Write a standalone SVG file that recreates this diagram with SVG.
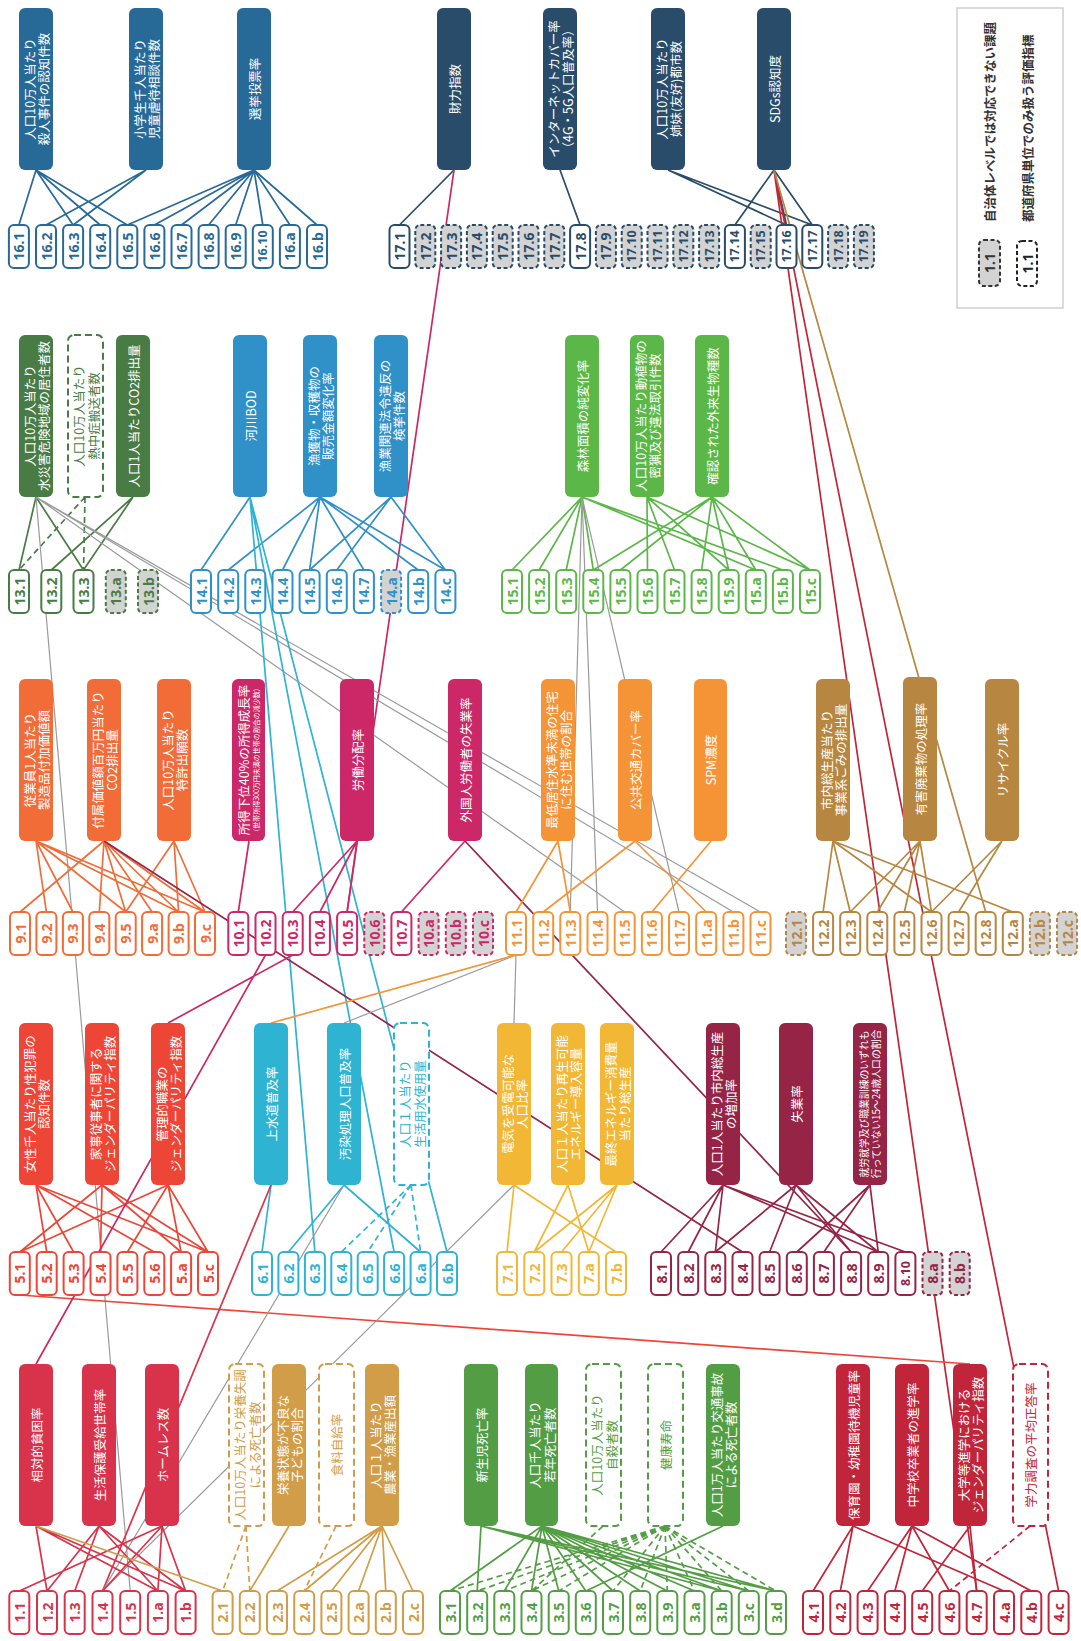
<svg xmlns="http://www.w3.org/2000/svg" width="1081" height="1641" viewBox="0 0 1081 1641">
<style>
.s1{--c:#D8334A}.s2{--c:#D19D48}.s3{--c:#539E45}.s4{--c:#C1253A}.s5{--c:#EE4636}.s6{--c:#2EB3D3}.s7{--c:#F2B735}.s8{--c:#952447}.s9{--c:#F26C38}.s10{--c:#CC2766}.s11{--c:#F59437}.s12{--c:#B78640}.s13{--c:#497C45}.s14{--c:#2F91C8}.s15{--c:#5BB848}.s16{--c:#286A97}.s17{--c:#294C6A}
#connectors path{fill:none;stroke:var(--c);stroke-width:1.7}
#connectors path.g{stroke:#9a9a9a;stroke-width:1.2}
#connectors path.d{stroke-dasharray:6 4}
.t rect{fill:#fff;stroke:var(--c);stroke-width:2}
.t.na rect{fill:#d3d3d3;stroke-dasharray:4 2.5}
.t text{fill:var(--c);font-family:"Noto Sans","DejaVu Sans",sans-serif;font-weight:700;font-size:14px;text-anchor:middle;dominant-baseline:central}
.t text.w{font-size:12.5px}
.i rect{fill:var(--c)}
.i text{fill:#fff;font-family:"Noto Sans CJK JP","Noto Sans",sans-serif;font-size:12.5px;text-anchor:middle;dominant-baseline:central}
.i.d rect{fill:#fff;stroke:var(--c);stroke-width:2;stroke-dasharray:7 4}
.i.d text{fill:var(--c)}
.lg{fill:#333;font-family:"Noto Sans CJK JP","Noto Sans",sans-serif;font-weight:700;font-size:12.5px;dominant-baseline:central}
</style>
<rect width="1081" height="1641" fill="#fff"/>
<g id="connectors">
<path class="s16" d="M36 170L18.9 225M36 170L73.1 225M36 170L100.2 225M36 170L127.3 225M146 170L46 225M146 170L73.1 225M254 170L127.3 225M254 170L154.4 225M254 170L181.5 225M254 170L208.6 225M254 170L235.7 225M254 170L262.8 225M254 170L289.9 225M254 170L317 225"/>
<path class="s17" d="M454 170L399.5 225M560 170L580.1 225M668 170L786.5 225M668 170L812.3 225M774 170L734.9 225M774 170L786.5 225M774 170L812.3 225"/>
<path class="s10" d="M454 170L347.1 912"/>
<path class="s4" d="M774 170L976.7 1591M774 170L1058.6 1591"/>
<path class="s12" d="M774 170L985.7 912"/>
<path class="s13" d="M36 497L19 570M36 497L83.5 570M133 497L51.3 570M133 497L83.5 570"/>
<path class="s13 d" d="M85 497L19 570M85 497L83.5 570"/>
<path class="g" d="M36 497L130.2 1591M36 497L624.7 912M36 497L733.4 912M36 497L760.5 912"/>
<path class="s14" d="M250 497L201 570M320 497L228.2 570M320 497L282.5 570M320 497L309.6 570M320 497L363.9 570M320 497L418.2 570M320 497L445.4 570M391 497L309.6 570M391 497L336.8 570M391 497L445.4 570"/>
<path class="s6" d="M250 497L314.9 1252M250 497L394.1 1252M250 497L447 1252"/>
<path class="s15" d="M582 497L512 570M582 497L539.1 570M582 497L566.2 570M582 497L593.3 570M582 497L755.8 570M582 497L782.9 570M647 497L647.5 570M647 497L674.5 570M647 497L728.7 570M647 497L810 570M712 497L593.3 570M712 497L620.4 570M712 497L701.6 570M712 497L728.7 570M712 497L755.8 570M712 497L810 570"/>
<path class="g" d="M582 497L570.3 912M582 497L597.5 912M582 497L679 912"/>
<path class="s9" d="M36 841L46.4 912M36 841L72.9 912M36 841L125.7 912M36 841L178.6 912M36 841L205 912M104 841L20 912M104 841L99.3 912M104 841L125.7 912M104 841L152.1 912M104 841L178.6 912M104 841L205 912M174 841L125.7 912M174 841L178.6 912M174 841L205 912"/>
<path class="s8" d="M104 841L742.5 1252M465 841L851.1 1252"/>
<path class="s10" d="M249 841L238.3 912M357 841L292.7 912M357 841L319.9 912M357 841L347.1 912M465 841L401.4 912"/>
<path class="s11" d="M558 841L516 912M558 841L570.3 912M635 841L543.2 912M635 841L706.2 912M711 841L651.9 912"/>
<path class="s12" d="M833 841L823.1 912M833 841L850.2 912M833 841L931.5 912M833 841L1012.8 912M920 841L850.2 912M920 841L877.3 912M920 841L904.4 912M920 841L931.5 912M1002 841L931.5 912M1002 841L958.6 912"/>
<path class="s5" d="M36 1185L46.7 1252M36 1185L73.6 1252M36 1185L154.3 1252M36 1185L208 1252M102 1185L19.8 1252M102 1185L100.5 1252M102 1185L181.1 1252M102 1185L208 1252M168 1185L19.8 1252M168 1185L127.4 1252M168 1185L181.1 1252M168 1185L208 1252"/>
<path class="s5" d="M970 1364L19.8 1295"/>
<path class="s10" d="M168 1023L292.7 955M36 1364L265.5 955"/>
<path class="s6" d="M271 1185L262 1252M344 1185L288.4 1252M344 1185L420.6 1252"/>
<path class="s6 d" d="M411 1185L341.3 1252M411 1185L367.7 1252M411 1185L420.6 1252"/>
<path class="s1" d="M271 1185L102.5 1591"/>
<path class="g" d="M344 1185L102.5 1591M514 1185L102.5 1591M344 1023L516 955M514 1023L516 955"/>
<path class="s11" d="M271 1023L516 955"/>
<path class="s7" d="M514 1185L507 1252M514 1185L616 1252M568 1185L534.3 1252M568 1185L588.8 1252M617 1185L534.3 1252M617 1185L561.5 1252M617 1185L588.8 1252"/>
<path class="s8" d="M723 1185L661 1252M723 1185L688.2 1252M723 1185L715.3 1252M723 1185L878.2 1252M723 1185L905.4 1252M796 1185L715.3 1252M796 1185L769.6 1252M796 1185L851.1 1252M796 1185L878.2 1252M870 1185L796.8 1252M870 1185L823.9 1252M870 1185L878.2 1252"/>
<path class="s1" d="M36 1526L47 1591M36 1526L157.9 1591M36 1526L185.6 1591M99 1526L47 1591M99 1526L74.7 1591M99 1526L157.9 1591M99 1526L185.6 1591M162 1526L19.3 1591M162 1526L102.5 1591M162 1526L157.9 1591M162 1526L185.6 1591"/>
<path class="s2" d="M36 1526L222.6 1591M289 1526L249.8 1591M382 1526L277 1591M382 1526L304.2 1591M382 1526L331.4 1591M382 1526L358.6 1591M382 1526L385.8 1591M382 1526L413 1591"/>
<path class="s2 d" d="M246 1526L222.6 1591M246 1526L249.8 1591M336 1526L304.2 1591"/>
<path class="s3" d="M481 1526L477.2 1591M481 1526L721.7 1591M481 1526L748.8 1591M481 1526L776 1591M542 1526L450 1591M542 1526L504.3 1591M542 1526L531.5 1591M542 1526L558.7 1591M542 1526L585.8 1591M542 1526L613 1591M542 1526L640.2 1591M542 1526L667.3 1591M542 1526L694.5 1591M542 1526L721.7 1591M542 1526L748.8 1591M542 1526L776 1591M723 1526L585.8 1591"/>
<path class="s3 d" d="M603 1526L531.5 1591M665 1526L450 1591M665 1526L477.2 1591M665 1526L504.3 1591M665 1526L531.5 1591M665 1526L558.7 1591M665 1526L613 1591M665 1526L640.2 1591M665 1526L667.3 1591M665 1526L694.5 1591M665 1526L721.7 1591M665 1526L748.8 1591M665 1526L776 1591"/>
<path class="s4" d="M853 1526L813 1591M853 1526L840.3 1591M853 1526L1004 1591M912 1526L867.6 1591M912 1526L894.9 1591M912 1526L949.4 1591M912 1526L1031.3 1591M970 1526L922.2 1591M970 1526L976.7 1591"/>
<path class="s4 d" d="M1030 1526L949.4 1591"/>
</g>
<g id="legend">
<rect x="957" y="8" width="106" height="300" fill="#fff" stroke="#cfcfcf" stroke-width="1.5"/>
<g class="t na" style="--c:#333"><rect x="979" y="240" width="21" height="46" rx="5"/><text transform="translate(989.5,263) rotate(-90)">1.1</text></g>
<g class="t" style="--c:#222"><rect x="1017" y="241" width="20" height="45" rx="5" style="stroke-dasharray:4 2.5"/><text transform="translate(1027,263.5) rotate(-90)">1.1</text></g>
<text class="lg" transform="translate(989,222) rotate(-90)">自治体レベルでは対応できない課題</text>
<text class="lg" transform="translate(1027,222) rotate(-90)">都道府県単位でのみ扱う評価指標</text>
</g>
<g id="i16-1" class="i s16"><rect x="19" y="8" width="34" height="162" rx="6"/><text transform="translate(36,89) rotate(-90)"><tspan x="0" y="-7.2">人口10万人当たり</tspan><tspan x="0" y="7.2">殺人事件の認知件数</tspan></text></g>
<g id="i16-2" class="i s16"><rect x="129" y="8" width="34" height="162" rx="6"/><text transform="translate(146,89) rotate(-90)"><tspan x="0" y="-7.2">小学生千人当たり</tspan><tspan x="0" y="7.2">児童虐待相談件数</tspan></text></g>
<g id="i16-3" class="i s16"><rect x="237" y="8" width="34" height="162" rx="6"/><text transform="translate(254,89) rotate(-90)">選挙投票率</text></g>
<g id="i17-1" class="i s17"><rect x="437" y="8" width="34" height="162" rx="6"/><text transform="translate(454,89) rotate(-90)">財力指数</text></g>
<g id="i17-2" class="i s17"><rect x="543" y="8" width="34" height="162" rx="6"/><text transform="translate(560,89) rotate(-90)"><tspan x="0" y="-7.2">インターネットカバー率</tspan><tspan x="0" y="7.2">（4G・5G人口普及率）</tspan></text></g>
<g id="i17-3" class="i s17"><rect x="651" y="8" width="34" height="162" rx="6"/><text transform="translate(668,89) rotate(-90)"><tspan x="0" y="-7.2">人口10万人当たり</tspan><tspan x="0" y="7.2">姉妹(友好)都市数</tspan></text></g>
<g id="i17-4" class="i s17"><rect x="757" y="8" width="34" height="162" rx="6"/><text transform="translate(774,89) rotate(-90)">SDGs認知度</text></g>
<g id="i13-1" class="i s13"><rect x="19" y="335" width="34" height="162" rx="6"/><text transform="translate(36,416) rotate(-90)"><tspan x="0" y="-7.2">人口10万人当たり</tspan><tspan x="0" y="7.2">水災害危険地域の居住者数</tspan></text></g>
<g id="i13-2" class="i d s13"><rect x="68" y="335" width="35" height="162" rx="6"/><text transform="translate(85.5,416) rotate(-90)"><tspan x="0" y="-7.2">人口10万人当たり</tspan><tspan x="0" y="7.2">熱中症搬送者数</tspan></text></g>
<g id="i13-3" class="i s13"><rect x="116" y="335" width="34" height="162" rx="6"/><text transform="translate(133,416) rotate(-90)">人口1人当たりCO2排出量</text></g>
<g id="i14-1" class="i s14"><rect x="233" y="335" width="34" height="162" rx="6"/><text transform="translate(250,416) rotate(-90)">河川BOD</text></g>
<g id="i14-2" class="i s14"><rect x="303" y="335" width="34" height="162" rx="6"/><text transform="translate(320,416) rotate(-90)"><tspan x="0" y="-7.2">漁獲物・収穫物の</tspan><tspan x="0" y="7.2">販売金額変化率</tspan></text></g>
<g id="i14-3" class="i s14"><rect x="374" y="335" width="34" height="162" rx="6"/><text transform="translate(391,416) rotate(-90)"><tspan x="0" y="-7.2">漁業関連法令違反の</tspan><tspan x="0" y="7.2">検挙件数</tspan></text></g>
<g id="i15-1" class="i s15"><rect x="565" y="335" width="34" height="162" rx="6"/><text transform="translate(582,416) rotate(-90)">森林面積の純変化率</text></g>
<g id="i15-2" class="i s15"><rect x="630" y="335" width="34" height="162" rx="6"/><text transform="translate(647,416) rotate(-90)"><tspan x="0" y="-7.2">人口10万人当たり動植物の</tspan><tspan x="0" y="7.2">密猟及び違法取引件数</tspan></text></g>
<g id="i15-3" class="i s15"><rect x="695" y="335" width="34" height="162" rx="6"/><text transform="translate(712,416) rotate(-90)">確認された外来生物種数</text></g>
<g id="i9-1" class="i s9"><rect x="19" y="679" width="34" height="162" rx="6"/><text transform="translate(36,760) rotate(-90)"><tspan x="0" y="-7.2">従業員1人当たり</tspan><tspan x="0" y="7.2">製造品付加価値額</tspan></text></g>
<g id="i9-2" class="i s9"><rect x="87" y="679" width="34" height="162" rx="6"/><text transform="translate(104,760) rotate(-90)"><tspan x="0" y="-7.2">付属価値額百万円当たり</tspan><tspan x="0" y="7.2">CO2排出量</tspan></text></g>
<g id="i9-3" class="i s9"><rect x="157" y="679" width="34" height="162" rx="6"/><text transform="translate(174,760) rotate(-90)"><tspan x="0" y="-7.2">人口10万人当たり</tspan><tspan x="0" y="7.2">特許出願数</tspan></text></g>
<g id="i10-1" class="i s10"><rect x="232" y="679" width="33" height="162" rx="6"/><text transform="translate(248.5,760) rotate(-90)"><tspan x="0" y="-5.5">所得下位40%の所得成長率</tspan><tspan x="0" y="7" style="font-size:7px">(世帯所得300万円未満の世帯の割合の減少数)</tspan></text></g>
<g id="i10-2" class="i s10"><rect x="340" y="679" width="34" height="162" rx="6"/><text transform="translate(357,760) rotate(-90)">労働分配率</text></g>
<g id="i10-3" class="i s10"><rect x="448" y="679" width="34" height="162" rx="6"/><text transform="translate(465,760) rotate(-90)">外国人労働者の失業率</text></g>
<g id="i11-1" class="i s11"><rect x="541" y="679" width="34" height="162" rx="6"/><text transform="translate(558,760) rotate(-90)"><tspan x="0" y="-7.2">最低居住水準未満の住宅</tspan><tspan x="0" y="7.2">に住む世帯の割合</tspan></text></g>
<g id="i11-2" class="i s11"><rect x="618" y="679" width="34" height="162" rx="6"/><text transform="translate(635,760) rotate(-90)">公共交通カバー率</text></g>
<g id="i11-3" class="i s11"><rect x="694" y="679" width="33" height="162" rx="6"/><text transform="translate(710.5,760) rotate(-90)">SPM濃度</text></g>
<g id="i12-1" class="i s12"><rect x="816" y="679" width="34" height="162" rx="6"/><text transform="translate(833,760) rotate(-90)"><tspan x="0" y="-7.2">市内総生産当たり</tspan><tspan x="0" y="7.2">事業系ごみの排出量</tspan></text></g>
<g id="i12-2" class="i s12"><rect x="903" y="677" width="34" height="164" rx="6"/><text transform="translate(920,759) rotate(-90)">有害廃棄物の処理率</text></g>
<g id="i12-3" class="i s12"><rect x="985" y="679" width="34" height="162" rx="6"/><text transform="translate(1002,760) rotate(-90)">リサイクル率</text></g>
<g id="i5-1" class="i s5"><rect x="19" y="1023" width="34" height="162" rx="6"/><text transform="translate(36,1104) rotate(-90)"><tspan x="0" y="-7.2">女性千人当たり性犯罪の</tspan><tspan x="0" y="7.2">認知件数</tspan></text></g>
<g id="i5-2" class="i s5"><rect x="85" y="1023" width="34" height="162" rx="6"/><text transform="translate(102,1104) rotate(-90)"><tspan x="0" y="-7.2">家事従事者に関する</tspan><tspan x="0" y="7.2">ジェンダーパリティ指数</tspan></text></g>
<g id="i5-3" class="i s5"><rect x="151" y="1023" width="34" height="162" rx="6"/><text transform="translate(168,1104) rotate(-90)"><tspan x="0" y="-7.2">管理的職業の</tspan><tspan x="0" y="7.2">ジェンダーパリティ指数</tspan></text></g>
<g id="i6-1" class="i s6"><rect x="254" y="1023" width="34" height="162" rx="6"/><text transform="translate(271,1104) rotate(-90)">上水道普及率</text></g>
<g id="i6-2" class="i s6"><rect x="327" y="1023" width="34" height="162" rx="6"/><text transform="translate(344,1104) rotate(-90)">汚染処理人口普及率</text></g>
<g id="i6-3" class="i d s6"><rect x="394" y="1023" width="35" height="162" rx="6"/><text transform="translate(411.5,1104) rotate(-90)"><tspan x="0" y="-7.2">人口１人当たり</tspan><tspan x="0" y="7.2">生活用水使用量</tspan></text></g>
<g id="i7-1" class="i s7"><rect x="497" y="1023" width="34" height="162" rx="6"/><text transform="translate(514,1104) rotate(-90)"><tspan x="0" y="-7.2">電気を受電可能な</tspan><tspan x="0" y="7.2">人口比率</tspan></text></g>
<g id="i7-2" class="i s7"><rect x="551" y="1023" width="34" height="162" rx="6"/><text transform="translate(568,1104) rotate(-90)"><tspan x="0" y="-7.2">人口１人当たり再生可能</tspan><tspan x="0" y="7.2">エネルギー導入容量</tspan></text></g>
<g id="i7-3" class="i s7"><rect x="600" y="1023" width="34" height="162" rx="6"/><text transform="translate(617,1104) rotate(-90)"><tspan x="0" y="-7.2">最終エネルギー消費量</tspan><tspan x="0" y="7.2">当たり総生産</tspan></text></g>
<g id="i8-1" class="i s8"><rect x="706" y="1023" width="34" height="162" rx="6"/><text transform="translate(723,1104) rotate(-90)"><tspan x="0" y="-7.2">人口1人当たり市内総生産</tspan><tspan x="0" y="7.2">の増加率</tspan></text></g>
<g id="i8-2" class="i s8"><rect x="779" y="1023" width="34" height="162" rx="6"/><text transform="translate(796,1104) rotate(-90)">失業率</text></g>
<g id="i8-3" class="i s8"><rect x="853" y="1023" width="34" height="162" rx="6"/><text transform="translate(870,1104) rotate(-90)" style="font-size:9.8px"><tspan x="0" y="-6.3">就労就学及び職業訓練のいずれも</tspan><tspan x="0" y="6.3">行っていない15～24歳人口の割合</tspan></text></g>
<g id="i1-1" class="i s1"><rect x="19" y="1364" width="34" height="162" rx="6"/><text transform="translate(36,1445) rotate(-90)">相対的貧困率</text></g>
<g id="i1-2" class="i s1"><rect x="82" y="1364" width="34" height="162" rx="6"/><text transform="translate(99,1445) rotate(-90)">生活保護受給世帯率</text></g>
<g id="i1-3" class="i s1"><rect x="145" y="1364" width="34" height="162" rx="6"/><text transform="translate(162,1445) rotate(-90)">ホームレス数</text></g>
<g id="i2-1" class="i d s2"><rect x="229" y="1364" width="35" height="162" rx="6"/><text transform="translate(246.5,1445) rotate(-90)"><tspan x="0" y="-7.2">人口10万人当たり栄養失調</tspan><tspan x="0" y="7.2">による死亡者数</tspan></text></g>
<g id="i2-2" class="i s2"><rect x="272" y="1364" width="34" height="162" rx="6"/><text transform="translate(289,1445) rotate(-90)"><tspan x="0" y="-7.2">栄養状態が不良な</tspan><tspan x="0" y="7.2">子どもの割合</tspan></text></g>
<g id="i2-3" class="i d s2"><rect x="319" y="1364" width="35" height="162" rx="6"/><text transform="translate(336.5,1445) rotate(-90)">食料自給率</text></g>
<g id="i2-4" class="i s2"><rect x="365" y="1364" width="34" height="162" rx="6"/><text transform="translate(382,1445) rotate(-90)"><tspan x="0" y="-7.2">人口１人当たり</tspan><tspan x="0" y="7.2">農業・漁業産出額</tspan></text></g>
<g id="i3-1" class="i s3"><rect x="464" y="1364" width="34" height="162" rx="6"/><text transform="translate(481,1445) rotate(-90)">新生児死亡率</text></g>
<g id="i3-2" class="i s3"><rect x="525" y="1364" width="33" height="162" rx="6"/><text transform="translate(541.5,1445) rotate(-90)"><tspan x="0" y="-7.2">人口千人当たり</tspan><tspan x="0" y="7.2">若年死亡者数</tspan></text></g>
<g id="i3-3" class="i d s3"><rect x="586" y="1364" width="35" height="162" rx="6"/><text transform="translate(603.5,1445) rotate(-90)"><tspan x="0" y="-7.2">人口10万人当たり</tspan><tspan x="0" y="7.2">自殺者数</tspan></text></g>
<g id="i3-4" class="i d s3"><rect x="648" y="1364" width="35" height="162" rx="6"/><text transform="translate(665.5,1445) rotate(-90)">健康寿命</text></g>
<g id="i3-5" class="i s3"><rect x="706" y="1364" width="34" height="162" rx="6"/><text transform="translate(723,1445) rotate(-90)"><tspan x="0" y="-7.2">人口1万人当たり交通事故</tspan><tspan x="0" y="7.2">による死亡者数</tspan></text></g>
<g id="i4-1" class="i s4"><rect x="836" y="1364" width="34" height="162" rx="6"/><text transform="translate(853,1445) rotate(-90)">保育園・幼稚園待機児童率</text></g>
<g id="i4-2" class="i s4"><rect x="895" y="1364" width="34" height="162" rx="6"/><text transform="translate(912,1445) rotate(-90)">中学校卒業者の進学率</text></g>
<g id="i4-3" class="i s4"><rect x="953" y="1364" width="34" height="162" rx="6"/><text transform="translate(970,1445) rotate(-90)"><tspan x="0" y="-7.2">大学等進学における</tspan><tspan x="0" y="7.2">ジェンダーパリティ指数</tspan></text></g>
<g id="i4-4" class="i d s4"><rect x="1013" y="1364" width="35" height="162" rx="6"/><text transform="translate(1030.5,1445) rotate(-90)">学力調査の平均正答率</text></g>
<g id="t16-1" class="t s16"><rect x="8.9" y="225" width="20" height="43" rx="5"/><text transform="translate(18.9,246.5) rotate(-90)">16.1</text></g>
<g id="t16-2" class="t s16"><rect x="36" y="225" width="20" height="43" rx="5"/><text transform="translate(46,246.5) rotate(-90)">16.2</text></g>
<g id="t16-3" class="t s16"><rect x="63.1" y="225" width="20" height="43" rx="5"/><text transform="translate(73.1,246.5) rotate(-90)">16.3</text></g>
<g id="t16-4" class="t s16"><rect x="90.2" y="225" width="20" height="43" rx="5"/><text transform="translate(100.2,246.5) rotate(-90)">16.4</text></g>
<g id="t16-5" class="t s16"><rect x="117.3" y="225" width="20" height="43" rx="5"/><text transform="translate(127.3,246.5) rotate(-90)">16.5</text></g>
<g id="t16-6" class="t s16"><rect x="144.4" y="225" width="20" height="43" rx="5"/><text transform="translate(154.4,246.5) rotate(-90)">16.6</text></g>
<g id="t16-7" class="t s16"><rect x="171.5" y="225" width="20" height="43" rx="5"/><text transform="translate(181.5,246.5) rotate(-90)">16.7</text></g>
<g id="t16-8" class="t s16"><rect x="198.6" y="225" width="20" height="43" rx="5"/><text transform="translate(208.6,246.5) rotate(-90)">16.8</text></g>
<g id="t16-9" class="t s16"><rect x="225.7" y="225" width="20" height="43" rx="5"/><text transform="translate(235.7,246.5) rotate(-90)">16.9</text></g>
<g id="t16-10" class="t s16"><rect x="252.8" y="225" width="20" height="43" rx="5"/><text class="w" transform="translate(262.8,246.5) rotate(-90)">16.10</text></g>
<g id="t16-a" class="t s16"><rect x="279.9" y="225" width="20" height="43" rx="5"/><text transform="translate(289.9,246.5) rotate(-90)">16.a</text></g>
<g id="t16-b" class="t s16"><rect x="307" y="225" width="20" height="43" rx="5"/><text transform="translate(317,246.5) rotate(-90)">16.b</text></g>
<g id="t17-1" class="t s17"><rect x="389.5" y="225" width="20" height="43" rx="5"/><text transform="translate(399.5,246.5) rotate(-90)">17.1</text></g>
<g id="t17-2" class="t na s17"><rect x="415.3" y="225" width="20" height="43" rx="5"/><text transform="translate(425.3,246.5) rotate(-90)">17.2</text></g>
<g id="t17-3" class="t na s17"><rect x="441.1" y="225" width="20" height="43" rx="5"/><text transform="translate(451.1,246.5) rotate(-90)">17.3</text></g>
<g id="t17-4" class="t na s17"><rect x="466.9" y="225" width="20" height="43" rx="5"/><text transform="translate(476.9,246.5) rotate(-90)">17.4</text></g>
<g id="t17-5" class="t na s17"><rect x="492.7" y="225" width="20" height="43" rx="5"/><text transform="translate(502.7,246.5) rotate(-90)">17.5</text></g>
<g id="t17-6" class="t na s17"><rect x="518.5" y="225" width="20" height="43" rx="5"/><text transform="translate(528.5,246.5) rotate(-90)">17.6</text></g>
<g id="t17-7" class="t na s17"><rect x="544.3" y="225" width="20" height="43" rx="5"/><text transform="translate(554.3,246.5) rotate(-90)">17.7</text></g>
<g id="t17-8" class="t s17"><rect x="570.1" y="225" width="20" height="43" rx="5"/><text transform="translate(580.1,246.5) rotate(-90)">17.8</text></g>
<g id="t17-9" class="t na s17"><rect x="595.9" y="225" width="20" height="43" rx="5"/><text transform="translate(605.9,246.5) rotate(-90)">17.9</text></g>
<g id="t17-10" class="t na s17"><rect x="621.7" y="225" width="20" height="43" rx="5"/><text class="w" transform="translate(631.7,246.5) rotate(-90)">17.10</text></g>
<g id="t17-11" class="t na s17"><rect x="647.5" y="225" width="20" height="43" rx="5"/><text class="w" transform="translate(657.5,246.5) rotate(-90)">17.11</text></g>
<g id="t17-12" class="t na s17"><rect x="673.3" y="225" width="20" height="43" rx="5"/><text class="w" transform="translate(683.3,246.5) rotate(-90)">17.12</text></g>
<g id="t17-13" class="t na s17"><rect x="699.1" y="225" width="20" height="43" rx="5"/><text class="w" transform="translate(709.1,246.5) rotate(-90)">17.13</text></g>
<g id="t17-14" class="t s17"><rect x="724.9" y="225" width="20" height="43" rx="5"/><text class="w" transform="translate(734.9,246.5) rotate(-90)">17.14</text></g>
<g id="t17-15" class="t na s17"><rect x="750.7" y="225" width="20" height="43" rx="5"/><text class="w" transform="translate(760.7,246.5) rotate(-90)">17.15</text></g>
<g id="t17-16" class="t s17"><rect x="776.5" y="225" width="20" height="43" rx="5"/><text class="w" transform="translate(786.5,246.5) rotate(-90)">17.16</text></g>
<g id="t17-17" class="t s17"><rect x="802.3" y="225" width="20" height="43" rx="5"/><text class="w" transform="translate(812.3,246.5) rotate(-90)">17.17</text></g>
<g id="t17-18" class="t na s17"><rect x="828.1" y="225" width="20" height="43" rx="5"/><text class="w" transform="translate(838.1,246.5) rotate(-90)">17.18</text></g>
<g id="t17-19" class="t na s17"><rect x="853.9" y="225" width="20" height="43" rx="5"/><text class="w" transform="translate(863.9,246.5) rotate(-90)">17.19</text></g>
<g id="t13-1" class="t s13"><rect x="9" y="570" width="20" height="43" rx="5"/><text transform="translate(19,591.5) rotate(-90)">13.1</text></g>
<g id="t13-2" class="t s13"><rect x="41.3" y="570" width="20" height="43" rx="5"/><text transform="translate(51.3,591.5) rotate(-90)">13.2</text></g>
<g id="t13-3" class="t s13"><rect x="73.5" y="570" width="20" height="43" rx="5"/><text transform="translate(83.5,591.5) rotate(-90)">13.3</text></g>
<g id="t13-a" class="t na s13"><rect x="105.8" y="570" width="20" height="43" rx="5"/><text transform="translate(115.8,591.5) rotate(-90)">13.a</text></g>
<g id="t13-b" class="t na s13"><rect x="138" y="570" width="20" height="43" rx="5"/><text transform="translate(148,591.5) rotate(-90)">13.b</text></g>
<g id="t14-1" class="t s14"><rect x="191" y="570" width="20" height="43" rx="5"/><text transform="translate(201,591.5) rotate(-90)">14.1</text></g>
<g id="t14-2" class="t s14"><rect x="218.2" y="570" width="20" height="43" rx="5"/><text transform="translate(228.2,591.5) rotate(-90)">14.2</text></g>
<g id="t14-3" class="t s14"><rect x="245.3" y="570" width="20" height="43" rx="5"/><text transform="translate(255.3,591.5) rotate(-90)">14.3</text></g>
<g id="t14-4" class="t s14"><rect x="272.5" y="570" width="20" height="43" rx="5"/><text transform="translate(282.5,591.5) rotate(-90)">14.4</text></g>
<g id="t14-5" class="t s14"><rect x="299.6" y="570" width="20" height="43" rx="5"/><text transform="translate(309.6,591.5) rotate(-90)">14.5</text></g>
<g id="t14-6" class="t s14"><rect x="326.8" y="570" width="20" height="43" rx="5"/><text transform="translate(336.8,591.5) rotate(-90)">14.6</text></g>
<g id="t14-7" class="t s14"><rect x="353.9" y="570" width="20" height="43" rx="5"/><text transform="translate(363.9,591.5) rotate(-90)">14.7</text></g>
<g id="t14-a" class="t na s14"><rect x="381.1" y="570" width="20" height="43" rx="5"/><text transform="translate(391.1,591.5) rotate(-90)">14.a</text></g>
<g id="t14-b" class="t s14"><rect x="408.2" y="570" width="20" height="43" rx="5"/><text transform="translate(418.2,591.5) rotate(-90)">14.b</text></g>
<g id="t14-c" class="t s14"><rect x="435.4" y="570" width="20" height="43" rx="5"/><text transform="translate(445.4,591.5) rotate(-90)">14.c</text></g>
<g id="t15-1" class="t s15"><rect x="502" y="570" width="20" height="43" rx="5"/><text transform="translate(512,591.5) rotate(-90)">15.1</text></g>
<g id="t15-2" class="t s15"><rect x="529.1" y="570" width="20" height="43" rx="5"/><text transform="translate(539.1,591.5) rotate(-90)">15.2</text></g>
<g id="t15-3" class="t s15"><rect x="556.2" y="570" width="20" height="43" rx="5"/><text transform="translate(566.2,591.5) rotate(-90)">15.3</text></g>
<g id="t15-4" class="t s15"><rect x="583.3" y="570" width="20" height="43" rx="5"/><text transform="translate(593.3,591.5) rotate(-90)">15.4</text></g>
<g id="t15-5" class="t s15"><rect x="610.4" y="570" width="20" height="43" rx="5"/><text transform="translate(620.4,591.5) rotate(-90)">15.5</text></g>
<g id="t15-6" class="t s15"><rect x="637.5" y="570" width="20" height="43" rx="5"/><text transform="translate(647.5,591.5) rotate(-90)">15.6</text></g>
<g id="t15-7" class="t s15"><rect x="664.5" y="570" width="20" height="43" rx="5"/><text transform="translate(674.5,591.5) rotate(-90)">15.7</text></g>
<g id="t15-8" class="t s15"><rect x="691.6" y="570" width="20" height="43" rx="5"/><text transform="translate(701.6,591.5) rotate(-90)">15.8</text></g>
<g id="t15-9" class="t s15"><rect x="718.7" y="570" width="20" height="43" rx="5"/><text transform="translate(728.7,591.5) rotate(-90)">15.9</text></g>
<g id="t15-a" class="t s15"><rect x="745.8" y="570" width="20" height="43" rx="5"/><text transform="translate(755.8,591.5) rotate(-90)">15.a</text></g>
<g id="t15-b" class="t s15"><rect x="772.9" y="570" width="20" height="43" rx="5"/><text transform="translate(782.9,591.5) rotate(-90)">15.b</text></g>
<g id="t15-c" class="t s15"><rect x="800" y="570" width="20" height="43" rx="5"/><text transform="translate(810,591.5) rotate(-90)">15.c</text></g>
<g id="t9-1" class="t s9"><rect x="10" y="912" width="20" height="43" rx="5"/><text transform="translate(20,933.5) rotate(-90)">9.1</text></g>
<g id="t9-2" class="t s9"><rect x="36.4" y="912" width="20" height="43" rx="5"/><text transform="translate(46.4,933.5) rotate(-90)">9.2</text></g>
<g id="t9-3" class="t s9"><rect x="62.9" y="912" width="20" height="43" rx="5"/><text transform="translate(72.9,933.5) rotate(-90)">9.3</text></g>
<g id="t9-4" class="t s9"><rect x="89.3" y="912" width="20" height="43" rx="5"/><text transform="translate(99.3,933.5) rotate(-90)">9.4</text></g>
<g id="t9-5" class="t s9"><rect x="115.7" y="912" width="20" height="43" rx="5"/><text transform="translate(125.7,933.5) rotate(-90)">9.5</text></g>
<g id="t9-a" class="t s9"><rect x="142.1" y="912" width="20" height="43" rx="5"/><text transform="translate(152.1,933.5) rotate(-90)">9.a</text></g>
<g id="t9-b" class="t s9"><rect x="168.6" y="912" width="20" height="43" rx="5"/><text transform="translate(178.6,933.5) rotate(-90)">9.b</text></g>
<g id="t9-c" class="t s9"><rect x="195" y="912" width="20" height="43" rx="5"/><text transform="translate(205,933.5) rotate(-90)">9.c</text></g>
<g id="t10-1" class="t s10"><rect x="228.3" y="912" width="20" height="43" rx="5"/><text transform="translate(238.3,933.5) rotate(-90)">10.1</text></g>
<g id="t10-2" class="t s10"><rect x="255.5" y="912" width="20" height="43" rx="5"/><text transform="translate(265.5,933.5) rotate(-90)">10.2</text></g>
<g id="t10-3" class="t s10"><rect x="282.7" y="912" width="20" height="43" rx="5"/><text transform="translate(292.7,933.5) rotate(-90)">10.3</text></g>
<g id="t10-4" class="t s10"><rect x="309.9" y="912" width="20" height="43" rx="5"/><text transform="translate(319.9,933.5) rotate(-90)">10.4</text></g>
<g id="t10-5" class="t s10"><rect x="337.1" y="912" width="20" height="43" rx="5"/><text transform="translate(347.1,933.5) rotate(-90)">10.5</text></g>
<g id="t10-6" class="t na s10"><rect x="364.3" y="912" width="20" height="43" rx="5"/><text transform="translate(374.3,933.5) rotate(-90)">10.6</text></g>
<g id="t10-7" class="t s10"><rect x="391.4" y="912" width="20" height="43" rx="5"/><text transform="translate(401.4,933.5) rotate(-90)">10.7</text></g>
<g id="t10-a" class="t na s10"><rect x="418.6" y="912" width="20" height="43" rx="5"/><text transform="translate(428.6,933.5) rotate(-90)">10.a</text></g>
<g id="t10-b" class="t na s10"><rect x="445.8" y="912" width="20" height="43" rx="5"/><text transform="translate(455.8,933.5) rotate(-90)">10.b</text></g>
<g id="t10-c" class="t na s10"><rect x="473" y="912" width="20" height="43" rx="5"/><text transform="translate(483,933.5) rotate(-90)">10.c</text></g>
<g id="t11-1" class="t s11"><rect x="506" y="912" width="20" height="43" rx="5"/><text transform="translate(516,933.5) rotate(-90)">11.1</text></g>
<g id="t11-2" class="t s11"><rect x="533.2" y="912" width="20" height="43" rx="5"/><text transform="translate(543.2,933.5) rotate(-90)">11.2</text></g>
<g id="t11-3" class="t s11"><rect x="560.3" y="912" width="20" height="43" rx="5"/><text transform="translate(570.3,933.5) rotate(-90)">11.3</text></g>
<g id="t11-4" class="t s11"><rect x="587.5" y="912" width="20" height="43" rx="5"/><text transform="translate(597.5,933.5) rotate(-90)">11.4</text></g>
<g id="t11-5" class="t s11"><rect x="614.7" y="912" width="20" height="43" rx="5"/><text transform="translate(624.7,933.5) rotate(-90)">11.5</text></g>
<g id="t11-6" class="t s11"><rect x="641.9" y="912" width="20" height="43" rx="5"/><text transform="translate(651.9,933.5) rotate(-90)">11.6</text></g>
<g id="t11-7" class="t s11"><rect x="669" y="912" width="20" height="43" rx="5"/><text transform="translate(679,933.5) rotate(-90)">11.7</text></g>
<g id="t11-a" class="t s11"><rect x="696.2" y="912" width="20" height="43" rx="5"/><text transform="translate(706.2,933.5) rotate(-90)">11.a</text></g>
<g id="t11-b" class="t s11"><rect x="723.4" y="912" width="20" height="43" rx="5"/><text transform="translate(733.4,933.5) rotate(-90)">11.b</text></g>
<g id="t11-c" class="t s11"><rect x="750.5" y="912" width="20" height="43" rx="5"/><text transform="translate(760.5,933.5) rotate(-90)">11.c</text></g>
<g id="t12-1" class="t na s12"><rect x="786" y="912" width="20" height="43" rx="5"/><text transform="translate(796,933.5) rotate(-90)">12.1</text></g>
<g id="t12-2" class="t s12"><rect x="813.1" y="912" width="20" height="43" rx="5"/><text transform="translate(823.1,933.5) rotate(-90)">12.2</text></g>
<g id="t12-3" class="t s12"><rect x="840.2" y="912" width="20" height="43" rx="5"/><text transform="translate(850.2,933.5) rotate(-90)">12.3</text></g>
<g id="t12-4" class="t s12"><rect x="867.3" y="912" width="20" height="43" rx="5"/><text transform="translate(877.3,933.5) rotate(-90)">12.4</text></g>
<g id="t12-5" class="t s12"><rect x="894.4" y="912" width="20" height="43" rx="5"/><text transform="translate(904.4,933.5) rotate(-90)">12.5</text></g>
<g id="t12-6" class="t s12"><rect x="921.5" y="912" width="20" height="43" rx="5"/><text transform="translate(931.5,933.5) rotate(-90)">12.6</text></g>
<g id="t12-7" class="t s12"><rect x="948.6" y="912" width="20" height="43" rx="5"/><text transform="translate(958.6,933.5) rotate(-90)">12.7</text></g>
<g id="t12-8" class="t s12"><rect x="975.7" y="912" width="20" height="43" rx="5"/><text transform="translate(985.7,933.5) rotate(-90)">12.8</text></g>
<g id="t12-a" class="t s12"><rect x="1002.8" y="912" width="20" height="43" rx="5"/><text transform="translate(1012.8,933.5) rotate(-90)">12.a</text></g>
<g id="t12-b" class="t na s12"><rect x="1029.9" y="912" width="20" height="43" rx="5"/><text transform="translate(1039.9,933.5) rotate(-90)">12.b</text></g>
<g id="t12-c" class="t na s12"><rect x="1057" y="912" width="20" height="43" rx="5"/><text transform="translate(1067,933.5) rotate(-90)">12.c</text></g>
<g id="t5-1" class="t s5"><rect x="9.8" y="1252" width="20" height="43" rx="5"/><text transform="translate(19.8,1273.5) rotate(-90)">5.1</text></g>
<g id="t5-2" class="t s5"><rect x="36.7" y="1252" width="20" height="43" rx="5"/><text transform="translate(46.7,1273.5) rotate(-90)">5.2</text></g>
<g id="t5-3" class="t s5"><rect x="63.6" y="1252" width="20" height="43" rx="5"/><text transform="translate(73.6,1273.5) rotate(-90)">5.3</text></g>
<g id="t5-4" class="t s5"><rect x="90.5" y="1252" width="20" height="43" rx="5"/><text transform="translate(100.5,1273.5) rotate(-90)">5.4</text></g>
<g id="t5-5" class="t s5"><rect x="117.4" y="1252" width="20" height="43" rx="5"/><text transform="translate(127.4,1273.5) rotate(-90)">5.5</text></g>
<g id="t5-6" class="t s5"><rect x="144.3" y="1252" width="20" height="43" rx="5"/><text transform="translate(154.3,1273.5) rotate(-90)">5.6</text></g>
<g id="t5-a" class="t s5"><rect x="171.1" y="1252" width="20" height="43" rx="5"/><text transform="translate(181.1,1273.5) rotate(-90)">5.a</text></g>
<g id="t5-c" class="t s5"><rect x="198" y="1252" width="20" height="43" rx="5"/><text transform="translate(208,1273.5) rotate(-90)">5.c</text></g>
<g id="t6-1" class="t s6"><rect x="252" y="1252" width="20" height="43" rx="5"/><text transform="translate(262,1273.5) rotate(-90)">6.1</text></g>
<g id="t6-2" class="t s6"><rect x="278.4" y="1252" width="20" height="43" rx="5"/><text transform="translate(288.4,1273.5) rotate(-90)">6.2</text></g>
<g id="t6-3" class="t s6"><rect x="304.9" y="1252" width="20" height="43" rx="5"/><text transform="translate(314.9,1273.5) rotate(-90)">6.3</text></g>
<g id="t6-4" class="t s6"><rect x="331.3" y="1252" width="20" height="43" rx="5"/><text transform="translate(341.3,1273.5) rotate(-90)">6.4</text></g>
<g id="t6-5" class="t s6"><rect x="357.7" y="1252" width="20" height="43" rx="5"/><text transform="translate(367.7,1273.5) rotate(-90)">6.5</text></g>
<g id="t6-6" class="t s6"><rect x="384.1" y="1252" width="20" height="43" rx="5"/><text transform="translate(394.1,1273.5) rotate(-90)">6.6</text></g>
<g id="t6-a" class="t s6"><rect x="410.6" y="1252" width="20" height="43" rx="5"/><text transform="translate(420.6,1273.5) rotate(-90)">6.a</text></g>
<g id="t6-b" class="t s6"><rect x="437" y="1252" width="20" height="43" rx="5"/><text transform="translate(447,1273.5) rotate(-90)">6.b</text></g>
<g id="t7-1" class="t s7"><rect x="497" y="1252" width="20" height="43" rx="5"/><text transform="translate(507,1273.5) rotate(-90)">7.1</text></g>
<g id="t7-2" class="t s7"><rect x="524.3" y="1252" width="20" height="43" rx="5"/><text transform="translate(534.3,1273.5) rotate(-90)">7.2</text></g>
<g id="t7-3" class="t s7"><rect x="551.5" y="1252" width="20" height="43" rx="5"/><text transform="translate(561.5,1273.5) rotate(-90)">7.3</text></g>
<g id="t7-a" class="t s7"><rect x="578.8" y="1252" width="20" height="43" rx="5"/><text transform="translate(588.8,1273.5) rotate(-90)">7.a</text></g>
<g id="t7-b" class="t s7"><rect x="606" y="1252" width="20" height="43" rx="5"/><text transform="translate(616,1273.5) rotate(-90)">7.b</text></g>
<g id="t8-1" class="t s8"><rect x="651" y="1252" width="20" height="43" rx="5"/><text transform="translate(661,1273.5) rotate(-90)">8.1</text></g>
<g id="t8-2" class="t s8"><rect x="678.2" y="1252" width="20" height="43" rx="5"/><text transform="translate(688.2,1273.5) rotate(-90)">8.2</text></g>
<g id="t8-3" class="t s8"><rect x="705.3" y="1252" width="20" height="43" rx="5"/><text transform="translate(715.3,1273.5) rotate(-90)">8.3</text></g>
<g id="t8-4" class="t s8"><rect x="732.5" y="1252" width="20" height="43" rx="5"/><text transform="translate(742.5,1273.5) rotate(-90)">8.4</text></g>
<g id="t8-5" class="t s8"><rect x="759.6" y="1252" width="20" height="43" rx="5"/><text transform="translate(769.6,1273.5) rotate(-90)">8.5</text></g>
<g id="t8-6" class="t s8"><rect x="786.8" y="1252" width="20" height="43" rx="5"/><text transform="translate(796.8,1273.5) rotate(-90)">8.6</text></g>
<g id="t8-7" class="t s8"><rect x="813.9" y="1252" width="20" height="43" rx="5"/><text transform="translate(823.9,1273.5) rotate(-90)">8.7</text></g>
<g id="t8-8" class="t s8"><rect x="841.1" y="1252" width="20" height="43" rx="5"/><text transform="translate(851.1,1273.5) rotate(-90)">8.8</text></g>
<g id="t8-9" class="t s8"><rect x="868.2" y="1252" width="20" height="43" rx="5"/><text transform="translate(878.2,1273.5) rotate(-90)">8.9</text></g>
<g id="t8-10" class="t s8"><rect x="895.4" y="1252" width="20" height="43" rx="5"/><text class="w" transform="translate(905.4,1273.5) rotate(-90)">8.10</text></g>
<g id="t8-a" class="t na s8"><rect x="922.5" y="1252" width="20" height="43" rx="5"/><text transform="translate(932.5,1273.5) rotate(-90)">8.a</text></g>
<g id="t8-b" class="t na s8"><rect x="949.7" y="1252" width="20" height="43" rx="5"/><text transform="translate(959.7,1273.5) rotate(-90)">8.b</text></g>
<g id="t1-1" class="t s1"><rect x="9.3" y="1591" width="20" height="43" rx="5"/><text transform="translate(19.3,1612.5) rotate(-90)">1.1</text></g>
<g id="t1-2" class="t s1"><rect x="37" y="1591" width="20" height="43" rx="5"/><text transform="translate(47,1612.5) rotate(-90)">1.2</text></g>
<g id="t1-3" class="t s1"><rect x="64.7" y="1591" width="20" height="43" rx="5"/><text transform="translate(74.7,1612.5) rotate(-90)">1.3</text></g>
<g id="t1-4" class="t s1"><rect x="92.5" y="1591" width="20" height="43" rx="5"/><text transform="translate(102.5,1612.5) rotate(-90)">1.4</text></g>
<g id="t1-5" class="t s1"><rect x="120.2" y="1591" width="20" height="43" rx="5"/><text transform="translate(130.2,1612.5) rotate(-90)">1.5</text></g>
<g id="t1-a" class="t s1"><rect x="147.9" y="1591" width="20" height="43" rx="5"/><text transform="translate(157.9,1612.5) rotate(-90)">1.a</text></g>
<g id="t1-b" class="t s1"><rect x="175.6" y="1591" width="20" height="43" rx="5"/><text transform="translate(185.6,1612.5) rotate(-90)">1.b</text></g>
<g id="t2-1" class="t s2"><rect x="212.6" y="1591" width="20" height="43" rx="5"/><text transform="translate(222.6,1612.5) rotate(-90)">2.1</text></g>
<g id="t2-2" class="t s2"><rect x="239.8" y="1591" width="20" height="43" rx="5"/><text transform="translate(249.8,1612.5) rotate(-90)">2.2</text></g>
<g id="t2-3" class="t s2"><rect x="267" y="1591" width="20" height="43" rx="5"/><text transform="translate(277,1612.5) rotate(-90)">2.3</text></g>
<g id="t2-4" class="t s2"><rect x="294.2" y="1591" width="20" height="43" rx="5"/><text transform="translate(304.2,1612.5) rotate(-90)">2.4</text></g>
<g id="t2-5" class="t s2"><rect x="321.4" y="1591" width="20" height="43" rx="5"/><text transform="translate(331.4,1612.5) rotate(-90)">2.5</text></g>
<g id="t2-a" class="t s2"><rect x="348.6" y="1591" width="20" height="43" rx="5"/><text transform="translate(358.6,1612.5) rotate(-90)">2.a</text></g>
<g id="t2-b" class="t s2"><rect x="375.8" y="1591" width="20" height="43" rx="5"/><text transform="translate(385.8,1612.5) rotate(-90)">2.b</text></g>
<g id="t2-c" class="t s2"><rect x="403" y="1591" width="20" height="43" rx="5"/><text transform="translate(413,1612.5) rotate(-90)">2.c</text></g>
<g id="t3-1" class="t s3"><rect x="440" y="1591" width="20" height="43" rx="5"/><text transform="translate(450,1612.5) rotate(-90)">3.1</text></g>
<g id="t3-2" class="t s3"><rect x="467.2" y="1591" width="20" height="43" rx="5"/><text transform="translate(477.2,1612.5) rotate(-90)">3.2</text></g>
<g id="t3-3" class="t s3"><rect x="494.3" y="1591" width="20" height="43" rx="5"/><text transform="translate(504.3,1612.5) rotate(-90)">3.3</text></g>
<g id="t3-4" class="t s3"><rect x="521.5" y="1591" width="20" height="43" rx="5"/><text transform="translate(531.5,1612.5) rotate(-90)">3.4</text></g>
<g id="t3-5" class="t s3"><rect x="548.7" y="1591" width="20" height="43" rx="5"/><text transform="translate(558.7,1612.5) rotate(-90)">3.5</text></g>
<g id="t3-6" class="t s3"><rect x="575.8" y="1591" width="20" height="43" rx="5"/><text transform="translate(585.8,1612.5) rotate(-90)">3.6</text></g>
<g id="t3-7" class="t s3"><rect x="603" y="1591" width="20" height="43" rx="5"/><text transform="translate(613,1612.5) rotate(-90)">3.7</text></g>
<g id="t3-8" class="t s3"><rect x="630.2" y="1591" width="20" height="43" rx="5"/><text transform="translate(640.2,1612.5) rotate(-90)">3.8</text></g>
<g id="t3-9" class="t s3"><rect x="657.3" y="1591" width="20" height="43" rx="5"/><text transform="translate(667.3,1612.5) rotate(-90)">3.9</text></g>
<g id="t3-a" class="t s3"><rect x="684.5" y="1591" width="20" height="43" rx="5"/><text transform="translate(694.5,1612.5) rotate(-90)">3.a</text></g>
<g id="t3-b" class="t s3"><rect x="711.7" y="1591" width="20" height="43" rx="5"/><text transform="translate(721.7,1612.5) rotate(-90)">3.b</text></g>
<g id="t3-c" class="t s3"><rect x="738.8" y="1591" width="20" height="43" rx="5"/><text transform="translate(748.8,1612.5) rotate(-90)">3.c</text></g>
<g id="t3-d" class="t s3"><rect x="766" y="1591" width="20" height="43" rx="5"/><text transform="translate(776,1612.5) rotate(-90)">3.d</text></g>
<g id="t4-1" class="t s4"><rect x="803" y="1591" width="20" height="43" rx="5"/><text transform="translate(813,1612.5) rotate(-90)">4.1</text></g>
<g id="t4-2" class="t s4"><rect x="830.3" y="1591" width="20" height="43" rx="5"/><text transform="translate(840.3,1612.5) rotate(-90)">4.2</text></g>
<g id="t4-3" class="t s4"><rect x="857.6" y="1591" width="20" height="43" rx="5"/><text transform="translate(867.6,1612.5) rotate(-90)">4.3</text></g>
<g id="t4-4" class="t s4"><rect x="884.9" y="1591" width="20" height="43" rx="5"/><text transform="translate(894.9,1612.5) rotate(-90)">4.4</text></g>
<g id="t4-5" class="t s4"><rect x="912.2" y="1591" width="20" height="43" rx="5"/><text transform="translate(922.2,1612.5) rotate(-90)">4.5</text></g>
<g id="t4-6" class="t s4"><rect x="939.4" y="1591" width="20" height="43" rx="5"/><text transform="translate(949.4,1612.5) rotate(-90)">4.6</text></g>
<g id="t4-7" class="t s4"><rect x="966.7" y="1591" width="20" height="43" rx="5"/><text transform="translate(976.7,1612.5) rotate(-90)">4.7</text></g>
<g id="t4-a" class="t s4"><rect x="994" y="1591" width="20" height="43" rx="5"/><text transform="translate(1004,1612.5) rotate(-90)">4.a</text></g>
<g id="t4-b" class="t s4"><rect x="1021.3" y="1591" width="20" height="43" rx="5"/><text transform="translate(1031.3,1612.5) rotate(-90)">4.b</text></g>
<g id="t4-c" class="t s4"><rect x="1048.6" y="1591" width="20" height="43" rx="5"/><text transform="translate(1058.6,1612.5) rotate(-90)">4.c</text></g>
</svg>
